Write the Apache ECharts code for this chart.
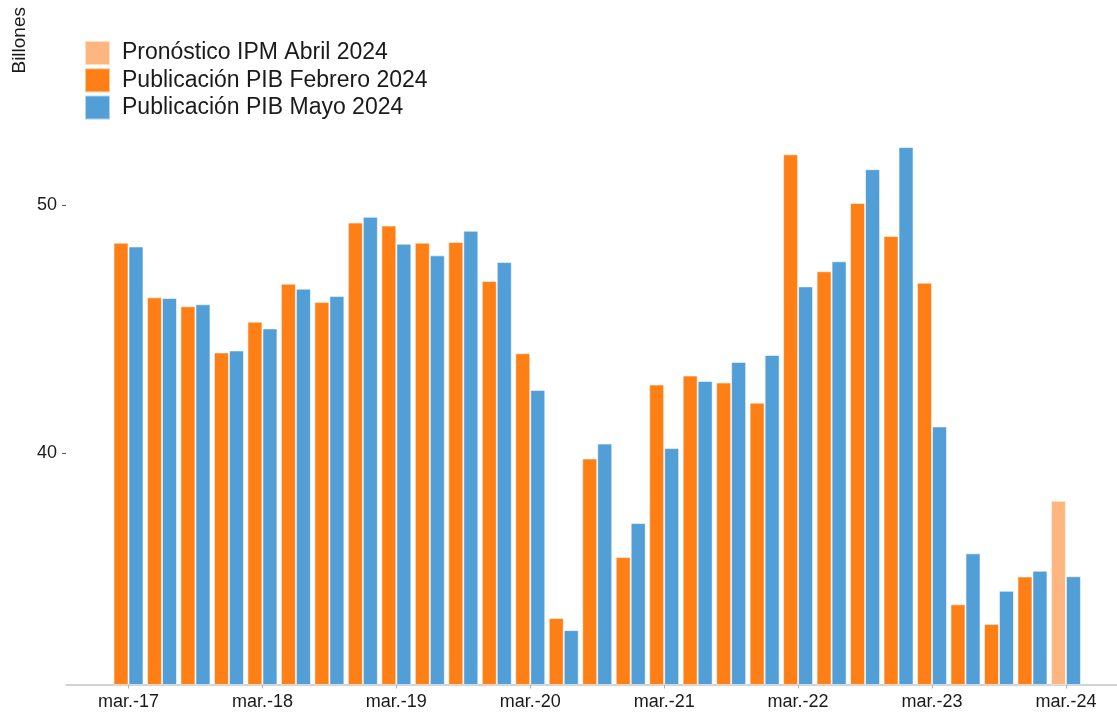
<!DOCTYPE html>
<html>
<head>
<meta charset="utf-8">
<title>Billones</title>
<script src="https://cdn.jsdelivr.net/npm/echarts@6/dist/echarts.min.js"></script>
<style>
  html, body { margin: 0; padding: 0; background: #fff; }
  #chart { width: 1117px; height: 712px; }
</style>
</head>
<body>
<div id="chart"></div>
<script>
// trimestres (solo se rotulan los de marzo)
const quarters = [
  'mar.-17', 'jun.-17', 'sep.-17', 'dic.-17',
  'mar.-18', 'jun.-18', 'sep.-18', 'dic.-18',
  'mar.-19', 'jun.-19', 'sep.-19', 'dic.-19',
  'mar.-20', 'jun.-20', 'sep.-20', 'dic.-20',
  'mar.-21', 'jun.-21', 'sep.-21', 'dic.-21',
  'mar.-22', 'jun.-22', 'sep.-22', 'dic.-22',
  'mar.-23', 'jun.-23', 'sep.-23', 'dic.-23',
  'mar.-24'
]
const tickIdx = [0, 4, 8, 12, 16, 20, 24, 28]
const yTicks = [40, 50]

// Publicación PIB Febrero 2024
const febrero = [
  48.48, 46.28, 45.92, 44.06, 45.30, 46.83, 46.09, 49.29,
  49.17, 48.48, 48.51, 46.94, 44.03, 33.37, 39.79, 35.82,
  42.77, 43.13, 42.85, 42.04, 52.04, 47.33, 50.08, 48.75,
  46.87, 33.92, 33.13, 35.04, null
]
// Publicación PIB Mayo 2024
const mayo = [
  48.33, 46.25, 46.00, 44.14, 45.03, 46.63, 46.33, 49.52,
  48.44, 47.97, 48.96, 47.70, 42.55, 32.88, 40.39, 37.19,
  40.21, 42.91, 43.68, 43.96, 46.72, 47.73, 51.44, 52.33,
  41.08, 35.97, 34.46, 35.27, 35.05
]
// Pronóstico IPM Abril 2024
const pronostico = [
  null, null, null, null, null, null, null, null,
  null, null, null, null, null, null, null, null,
  null, null, null, null, null, null, null, null,
  null, null, null, null, 38.09
]

const toPairs = arr => arr.map((v, i) => [i, v]).filter(p => p[1] !== null)

const font = 'Liberation Sans, Arial, sans-serif'
const border = 'rgba(255,255,255,0.55)'

const myChart = echarts.init(document.getElementById('chart'))
const options = {
  animation: false,
  textStyle: { fontFamily: font, color: '#1a1a1a' },
  grid: { left: 66, right: 0, top: 10, bottom: 27.5 },
  legend: {
    orient: 'vertical',
    left: 84,
    top: 40,
    padding: 0,
    icon: 'rect',
    itemWidth: 25,
    itemHeight: 24,
    itemGap: 1.3,
    textStyle: { fontSize: 23, color: '#1a1a1a', padding: [0, 0, 0, 7], lineHeight: 25 },
    data: ['Pronóstico IPM Abril 2024', 'Publicación PIB Febrero 2024', 'Publicación PIB Mayo 2024']
  },
  xAxis: {
    type: 'value',
    min: -1.867,
    max: 29.525,
    splitLine: { show: false },
    axisLine: { show: true, onZero: false, lineStyle: { color: '#c4c4c4', width: 1.5 } },
    axisTick: { show: true, customValues: tickIdx, length: 4, lineStyle: { color: '#b0b0b0' } },
    axisLabel: {
      customValues: tickIdx,
      fontSize: 18,
      color: '#1a1a1a',
      margin: 9,
      formatter: v => quarters[Math.round(v)]
    }
  },
  yAxis: {
    type: 'value',
    min: 30.69,
    max: 57.85,
    name: 'Billones',
    nameLocation: 'end',
    nameRotate: 90,
    nameGap: 3,
    nameTextStyle: { fontSize: 19, color: '#1a1a1a', align: 'right', verticalAlign: 'bottom', padding: [0, 0, 37, 0] },
    splitLine: { show: false },
    axisLine: { show: false, onZero: false },
    axisTick: { show: true, customValues: yTicks, length: 4, lineStyle: { color: '#555' } },
    axisLabel: { customValues: yTicks, fontSize: 18, color: '#1a1a1a', margin: 9 }
  },
  series: [
    {
      name: 'Pronóstico IPM Abril 2024',
      type: 'bar',
      stack: 'a',
      barWidth: 15,
      barGap: 0,
      data: toPairs(pronostico),
      itemStyle: { color: '#FDB67F', borderColor: border, borderWidth: 1 }
    },
    {
      name: 'Publicación PIB Febrero 2024',
      type: 'bar',
      stack: 'a',
      barWidth: 15,
      barGap: 0,
      data: toPairs(febrero),
      itemStyle: { color: '#FF7F17', borderColor: border, borderWidth: 1 }
    },
    {
      name: 'Publicación PIB Mayo 2024',
      type: 'bar',
      stack: 'b',
      barWidth: 15,
      barGap: 0,
      data: toPairs(mayo),
      itemStyle: { color: '#529ED6', borderColor: border, borderWidth: 1 }
    }
  ]
}
myChart.setOption(options)
</script>
</body>
</html>
